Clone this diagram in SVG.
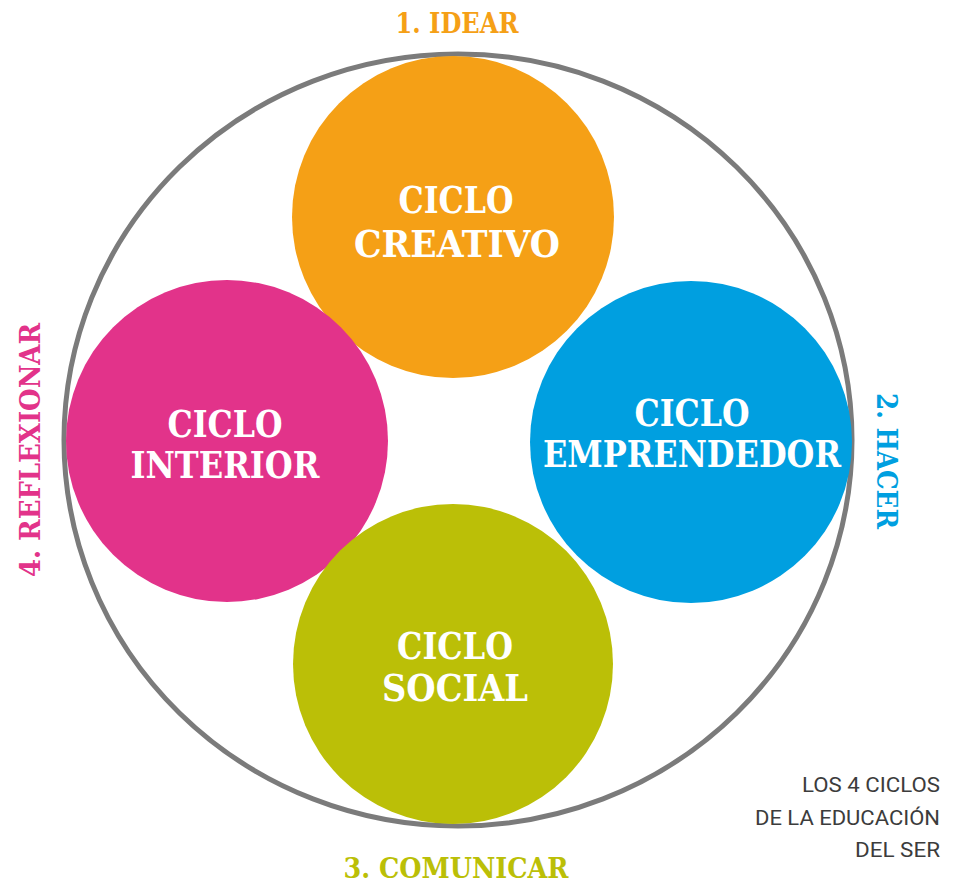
<svg xmlns="http://www.w3.org/2000/svg" width="954" height="885" viewBox="0 0 954 885">
<style>
.big{font-family:"DejaVu Serif","Liberation Serif",serif;font-weight:bold;font-size:37px;fill:#ffffff;text-anchor:middle}
.lbl{font-family:"DejaVu Serif","Liberation Serif",serif;font-weight:bold;font-size:28px;text-anchor:middle}
.cap{font-family:Roboto,"Liberation Sans",sans-serif;font-size:21px;fill:#3c3c3c;text-anchor:end}
</style>
<rect width="954" height="885" fill="#ffffff"/>
<g id="outer">
<ellipse cx="458" cy="440" rx="394" ry="386" fill="none" stroke="#7b7b7b" stroke-width="5"/>
</g>
<g id="creativo">
<circle cx="453" cy="217" r="161" fill="#f5a016"/>
<text class="big" x="456" y="213" textLength="115" lengthAdjust="spacingAndGlyphs">CICLO</text>
<text class="big" x="457" y="257" textLength="206" lengthAdjust="spacingAndGlyphs">CREATIVO</text>
</g>
<g id="interior">
<circle cx="227" cy="441" r="161" fill="#e2338a"/>
<text class="big" x="225" y="437" textLength="115" lengthAdjust="spacingAndGlyphs">CICLO</text>
<text class="big" x="225" y="478" textLength="189" lengthAdjust="spacingAndGlyphs">INTERIOR</text>
</g>
<g id="emprendedor">
<circle cx="691" cy="442" r="161" fill="#009fe0"/>
<text class="big" x="692" y="426" textLength="115" lengthAdjust="spacingAndGlyphs">CICLO</text>
<text class="big" x="692" y="467" textLength="298" lengthAdjust="spacingAndGlyphs">EMPRENDEDOR</text>
</g>
<g id="social">
<circle cx="453" cy="664" r="160" fill="#bbbf07"/>
<text class="big" x="455" y="659" textLength="116" lengthAdjust="spacingAndGlyphs">CICLO</text>
<text class="big" x="455" y="701" textLength="146" lengthAdjust="spacingAndGlyphs">SOCIAL</text>
</g>
<g id="labels">
<text class="lbl" x="457" y="33" fill="#f5a016" textLength="123" lengthAdjust="spacingAndGlyphs">1. IDEAR</text>
<text class="lbl" x="456" y="878" fill="#bbbf07" textLength="225" lengthAdjust="spacingAndGlyphs">3. COMUNICAR</text>
<text class="lbl" transform="translate(877,461) rotate(90)" fill="#009fe0" textLength="136" lengthAdjust="spacingAndGlyphs">2. HACER</text>
<text class="lbl" transform="translate(40,450) rotate(-90)" fill="#e2338a" textLength="254" lengthAdjust="spacingAndGlyphs">4. REFLEXIONAR</text>
</g>
<g id="caption">
<text class="cap" x="940" y="792" textLength="138" lengthAdjust="spacingAndGlyphs">LOS 4 CICLOS</text>
<text class="cap" x="940" y="825" textLength="185" lengthAdjust="spacingAndGlyphs">DE LA EDUCACIÓN</text>
<text class="cap" x="940" y="857" textLength="85" lengthAdjust="spacingAndGlyphs">DEL SER</text>
</g>
<g id="connectors"/>
</svg>
